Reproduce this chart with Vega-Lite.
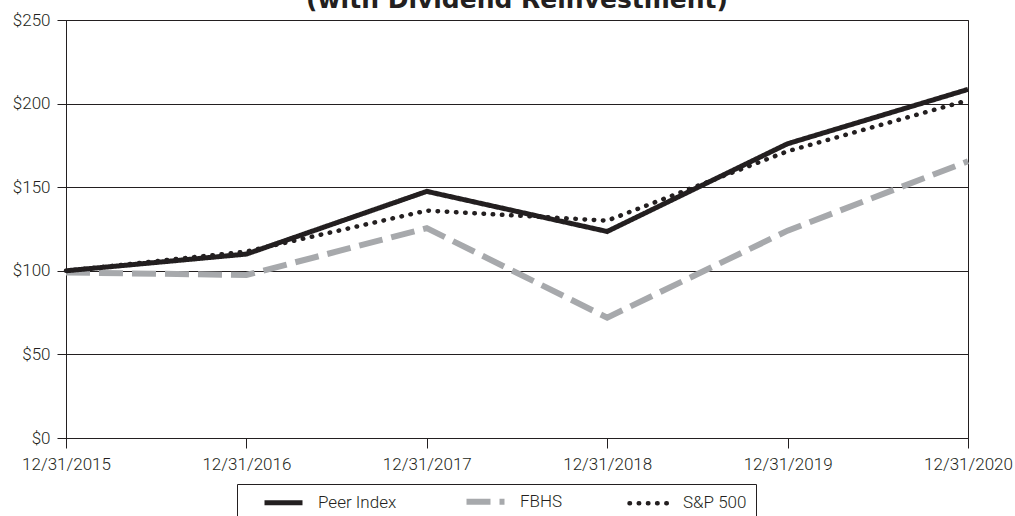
{
  "$schema": "https://vega.github.io/schema/vega-lite/v6.json",
  "width": 902,
  "height": 418,
  "autosize": {"type": "none"},
  "padding": {"left": 66, "top": 20, "right": 47, "bottom": 78},
  "background": "white",
  "title": {
    "text": "(with Dividend Reinvestment)",
    "font": "DejaVu Sans",
    "fontWeight": "bold",
    "fontSize": 25,
    "color": "#231f20",
    "anchor": "middle",
    "baseline": "alphabetic",
    "offset": 0,
    "dy": 22
  },
  "config": {
    "view": {"stroke": "#231f20", "strokeWidth": 1},
    "axis": {
      "domainColor": "#231f20",
      "tickColor": "#231f20",
      "labelColor": "#231f20",
      "labelFont": "Roboto",
      "labelFontWeight": 300,
      "labelFontSize": 17,
      "gridColor": "#231f20",
      "gridOpacity": 1,
      "title": null
    }
  },
  "data": {
    "values": [
      {"date": "12/31/2015", "series": "Peer Index", "value": 100},
      {"date": "12/31/2016", "series": "Peer Index", "value": 110},
      {"date": "12/31/2017", "series": "Peer Index", "value": 147.5},
      {"date": "12/31/2018", "series": "Peer Index", "value": 123.5},
      {"date": "12/31/2019", "series": "Peer Index", "value": 176},
      {"date": "12/31/2020", "series": "Peer Index", "value": 208.5},
      {"date": "12/31/2015", "series": "FBHS", "value": 99},
      {"date": "12/31/2016", "series": "FBHS", "value": 97.5},
      {"date": "12/31/2017", "series": "FBHS", "value": 125.5},
      {"date": "12/31/2018", "series": "FBHS", "value": 72},
      {"date": "12/31/2019", "series": "FBHS", "value": 124},
      {"date": "12/31/2020", "series": "FBHS", "value": 165.5},
      {"date": "12/31/2015", "series": "S&P 500", "value": 100},
      {"date": "12/31/2016", "series": "S&P 500", "value": 111.5},
      {"date": "12/31/2017", "series": "S&P 500", "value": 136},
      {"date": "12/31/2018", "series": "S&P 500", "value": 130},
      {"date": "12/31/2019", "series": "S&P 500", "value": 171.5},
      {"date": "12/31/2020", "series": "S&P 500", "value": 202}
    ]
  },
  "encoding": {
    "x": {
      "field": "date",
      "type": "ordinal",
      "sort": ["12/31/2015", "12/31/2016", "12/31/2017", "12/31/2018", "12/31/2019", "12/31/2020"],
      "scale": {"type": "point", "padding": 0},
      "axis": {"labelAngle": 0, "tickSize": 10, "labelPadding": 8, "grid": false, "title": null}
    },
    "y": {
      "field": "value",
      "type": "quantitative",
      "scale": {"domain": [0, 250], "nice": false, "zero": true},
      "axis": {
        "values": [0, 50, 100, 150, 200, 250],
        "labelExpr": "'$' + datum.value",
        "tickSize": 9,
        "labelPadding": 7,
        "grid": true,
        "gridWidth": 1,
        "title": null
      }
    },
    "color": {
      "field": "series",
      "type": "nominal",
      "scale": {"domain": ["Peer Index", "FBHS", "S&P 500"], "range": ["#231f20", "#a7a9ac", "#231f20"]},
      "legend": {
        "orient": "none",
        "legendX": 171,
        "legendY": 464,
        "direction": "horizontal",
        "columns": 3,
        "title": "\u00a0",
        "titleOrient": "left",
        "titleFontSize": 10,
        "titlePadding": 29,
        "symbolType": "stroke",
        "symbolSize": 1444,
        "symbolStrokeWidth": 5,
        "labelOffset": 26,
        "columnPadding": 57,
        "padding": 9,
        "strokeColor": "#231f20",
        "fillColor": "white",
        "labelFont": "Roboto",
        "labelFontWeight": 300,
        "labelFontSize": 17,
        "labelColor": "#231f20",
        "labelLimit": 200,
        "encode": {
          "symbols": {
            "update": {
              "strokeWidth": {"signal": "datum.value === 'FBHS' ? 6 : datum.value === 'S&P 500' ? 4.5 : 5"},
              "strokeCap": {"signal": "datum.value === 'S&P 500' ? 'round' : 'butt'"}
            }
          }
        }
      }
    },
    "strokeDash": {
      "field": "series",
      "type": "nominal",
      "scale": {"domain": ["Peer Index", "FBHS", "S&P 500"], "range": [[1, 0], [24, 9], [0.5, 8.7]]},
      "legend": {
        "orient": "none",
        "legendX": 171,
        "legendY": 464,
        "direction": "horizontal",
        "columns": 3,
        "title": "\u00a0",
        "titleOrient": "left",
        "titleFontSize": 10,
        "titlePadding": 29,
        "symbolType": "stroke",
        "symbolSize": 1444,
        "symbolStrokeWidth": 5,
        "labelOffset": 26,
        "columnPadding": 57,
        "padding": 9,
        "strokeColor": "#231f20",
        "fillColor": "white",
        "labelFont": "Roboto",
        "labelFontWeight": 300,
        "labelFontSize": 17,
        "labelColor": "#231f20",
        "labelLimit": 200
      }
    }
  },
  "layer": [
    {
      "transform": [{"filter": "datum.series === 'FBHS'"}],
      "mark": {"type": "line", "strokeWidth": 6, "strokeCap": "butt", "strokeJoin": "miter"}
    },
    {
      "transform": [{"filter": "datum.series === 'Peer Index'"}],
      "mark": {"type": "line", "strokeWidth": 5, "strokeCap": "butt", "strokeJoin": "miter"}
    },
    {
      "transform": [{"filter": "datum.series === 'S&P 500'"}],
      "mark": {"type": "line", "strokeWidth": 4.5, "strokeCap": "round", "strokeJoin": "round"}
    }
  ]
}
